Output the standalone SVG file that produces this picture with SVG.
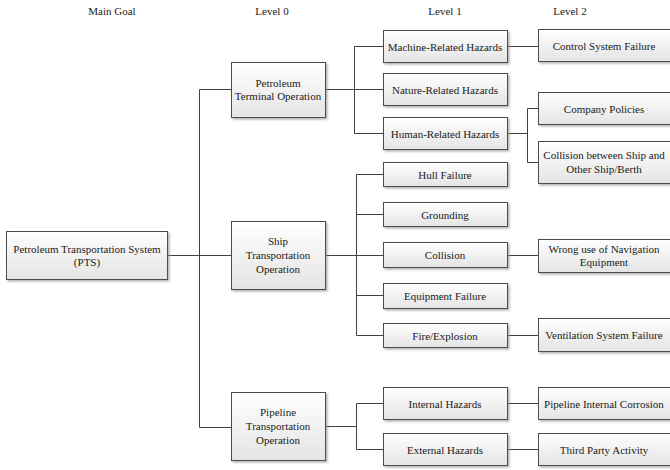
<svg xmlns="http://www.w3.org/2000/svg" width="670" height="470" viewBox="0 0 670 470" font-family="'Liberation Serif', 'Times New Roman', 'DejaVu Serif', serif">
<style>
  text { font-family: 'Liberation Serif', 'Times New Roman', 'DejaVu Serif', serif; font-size: 11px; fill: #1a1a1a; text-anchor: middle; }
  .box { fill: url(#grad); stroke: #4d4d4d; stroke-width: 1; filter: url(#shadow); }
  .conn { stroke: #404040; stroke-width: 1; fill: none; }
</style>
<defs>
  <linearGradient id="grad" x1="0" y1="0" x2="0" y2="1">
    <stop offset="0" stop-color="#ffffff"/>
    <stop offset="1" stop-color="#e4e4e4"/>
  </linearGradient>
  <filter id="shadow" x="-10%" y="-10%" width="130%" height="140%">
    <feDropShadow dx="1.5" dy="1.5" stdDeviation="0.8" flood-color="#8a8a8a" flood-opacity="0.7"/>
  </filter>
</defs>
<rect width="670" height="470" fill="#ffffff"/>

<g id="headers">
  <text x="112" y="15">Main Goal</text>
  <text x="272" y="15">Level 0</text>
  <text x="445" y="15">Level 1</text>
  <text x="570" y="15">Level 2</text>
</g>

<g id="connectors">
  <path class="conn" d="M167 255.5H199.5M199.5 89.5V427.5M199.5 89.5H231M199.5 255.5H231M199.5 427.5H231"/>
  <path class="conn" d="M325 89.5H354.5M354.5 46.5V133.5M354.5 46.5H383M354.5 89.5H383M354.5 133.5H383"/>
  <path class="conn" d="M325 255.5H356.5M356.5 174.5V335.5M356.5 174.5H383M356.5 214.5H383M356.5 255.5H383M356.5 295.5H383M356.5 335.5H383"/>
  <path class="conn" d="M325 426.5H356.5M356.5 403.5V449.5M356.5 403.5H383M356.5 449.5H383"/>
  <path class="conn" d="M507 46.5H538"/>
  <path class="conn" d="M507 133.5H527.5M527.5 108.5V162.5M527.5 108.5H538M527.5 162.5H538"/>
  <path class="conn" d="M507 255.5H538"/>
  <path class="conn" d="M507 335.5H538"/>
  <path class="conn" d="M507 403.5H538"/>
  <path class="conn" d="M507 449.5H538"/>
</g>

<g id="pts">
  <rect class="box" x="6.5" y="231.5" width="161" height="48"/>
  <text x="87" y="252.5">Petroleum Transportation System</text>
  <text x="87" y="265.5">(PTS)</text>
</g>

<g id="terminal">
  <rect class="box" x="231.5" y="62.5" width="94" height="55"/>
  <text x="278" y="86.5">Petroleum</text>
  <text x="278" y="100">Terminal Operation</text>
</g>
<g id="ship">
  <rect class="box" x="231.5" y="221.5" width="94" height="68"/>
  <text x="278" y="245">Ship</text>
  <text x="278" y="259">Transportation</text>
  <text x="278" y="272.5">Operation</text>
</g>
<g id="pipeline">
  <rect class="box" x="231.5" y="392.5" width="94" height="68"/>
  <text x="278" y="416">Pipeline</text>
  <text x="278" y="430">Transportation</text>
  <text x="278" y="443.5">Operation</text>
</g>

<g id="machine">
  <rect class="box" x="383.5" y="30.5" width="124" height="32"/>
  <text x="445" y="50.5">Machine-Related Hazards</text>
</g>
<g id="nature">
  <rect class="box" x="383.5" y="73.5" width="124" height="32"/>
  <text x="445" y="93.5">Nature-Related Hazards</text>
</g>
<g id="human">
  <rect class="box" x="383.5" y="117.5" width="124" height="32"/>
  <text x="445" y="137.5">Human-Related Hazards</text>
</g>
<g id="hull">
  <rect class="box" x="383.5" y="162.5" width="124" height="24"/>
  <text x="445" y="178.5">Hull Failure</text>
</g>
<g id="grounding">
  <rect class="box" x="383.5" y="202.5" width="124" height="24"/>
  <text x="445" y="218.5">Grounding</text>
</g>
<g id="collision">
  <rect class="box" x="383.5" y="242.5" width="124" height="25"/>
  <text x="445" y="259">Collision</text>
</g>
<g id="equipment">
  <rect class="box" x="383.5" y="283.5" width="124" height="25"/>
  <text x="445" y="300">Equipment Failure</text>
</g>
<g id="fire">
  <rect class="box" x="383.5" y="323.5" width="124" height="24"/>
  <text x="445" y="339.5">Fire/Explosion</text>
</g>
<g id="internal">
  <rect class="box" x="383.5" y="387.5" width="124" height="32"/>
  <text x="445" y="407.5">Internal Hazards</text>
</g>
<g id="external">
  <rect class="box" x="383.5" y="433.5" width="124" height="32"/>
  <text x="445" y="453.5">External Hazards</text>
</g>

<g id="control">
  <rect class="box" x="538.5" y="29.5" width="140" height="32"/>
  <text x="604" y="49.5">Control System Failure</text>
</g>
<g id="policies">
  <rect class="box" x="538.5" y="92.5" width="140" height="32"/>
  <text x="604" y="112.5">Company Policies</text>
</g>
<g id="collision-berth">
  <rect class="box" x="538.5" y="141.5" width="140" height="42"/>
  <text x="604" y="159">Collision between Ship and</text>
  <text x="604" y="172.5">Other Ship/Berth</text>
</g>
<g id="navigation">
  <rect class="box" x="538.5" y="239.5" width="140" height="33"/>
  <text x="604" y="253">Wrong use of Navigation</text>
  <text x="604" y="266">Equipment</text>
</g>
<g id="ventilation">
  <rect class="box" x="538.5" y="318.5" width="140" height="33"/>
  <text x="604" y="339">Ventilation System Failure</text>
</g>
<g id="corrosion">
  <rect class="box" x="538.5" y="387.5" width="140" height="32"/>
  <text x="604" y="407.5">Pipeline Internal Corrosion</text>
</g>
<g id="thirdparty">
  <rect class="box" x="538.5" y="433.5" width="140" height="32"/>
  <text x="604" y="453.5">Third Party Activity</text>
</g>
</svg>
